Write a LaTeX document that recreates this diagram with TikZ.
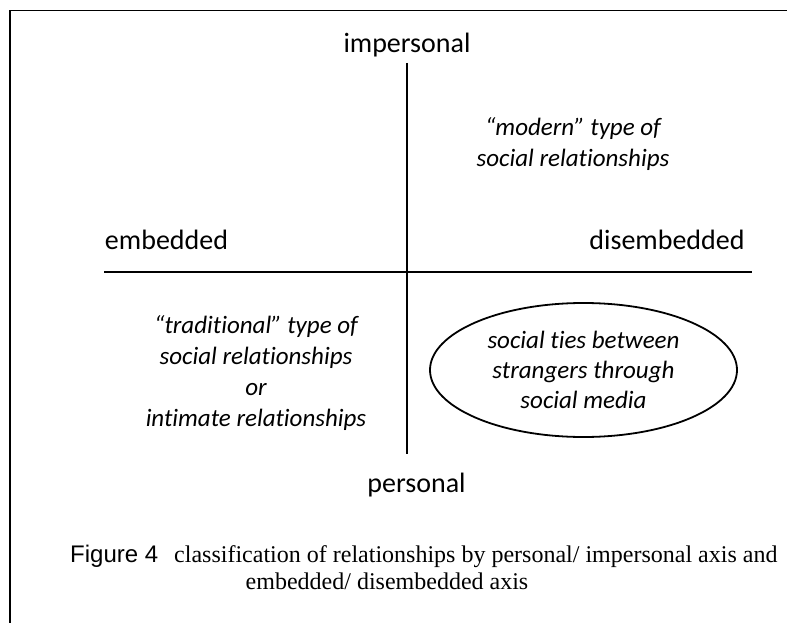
\documentclass[tikz,border=0pt]{standalone}
\usepackage{fontspec}
\setmainfont{Carlito}[Ligatures=NoCommon]
\newfontfamily\capsans{Liberation Sans}
\newfontfamily\capserif{Liberation Serif}
\usetikzlibrary{shapes.geometric}
\begin{document}
\begin{tikzpicture}[x=1pt,y=-1pt,
  axislabel/.style={font=\fontsize{28}{34}\selectfont, inner sep=0pt, anchor=base},
  quadtext/.style={font=\fontsize{25}{31}\selectfont\itshape, align=center, inner sep=0pt},
  axisline/.style={line width=2pt},
  frameline/.style={line width=1.8pt},
  captext/.style={font=\fontsize{24}{28}\selectfont\capserif, inner sep=0pt}]
\useasboundingbox (0,0) rectangle (787,623);
% frame
\coordinate (ftr) at (790,10.5);
\coordinate (ftl) at (10,10.5);
\coordinate (fbl) at (10,626);
\draw[frameline] (ftr) -- (ftl) -- (fbl);
% axes
\coordinate (vt) at (407,63);
\coordinate (vb) at (407,454);
\coordinate (hl) at (104,272);
\coordinate (hr) at (752,272);
\draw[axisline] (vt) -- (vb);
\draw[axisline] (hl) -- (hr);
% axis labels
\node[axislabel] (imp) at (407,53) {impersonal};
\node[axislabel] (per) at (416.5,492) {personal};
\node[axislabel] (emb) at (166.5,249) {embedded};
\node[axislabel] (dis) at (667,249) {disembedded};
% quadrant texts
\node[quadtext] (modern) at (573,144) {“modern” type of\\social relationships};
\node[quadtext] (trad) at (256,373) {“traditional” type of\\social relationships\\or\\intimate relationships};
\node[draw, line width=1.8pt, ellipse, inner sep=0pt, minimum width=307pt, minimum height=134pt] (media) at (583.5,370) {};
\node[quadtext, font=\fontsize{25}{30}\selectfont\itshape] (mediatext) at (media.center) {social ties between\\strangers through\\social media};
% caption
\node[captext, anchor=base west] (cap1) at (70,562) {{\capsans Figure 4}\hspace{16pt}classification of relationships by personal/ impersonal axis and};
\node[captext, anchor=base] (cap2) at (387,589) {embedded/ disembedded axis};
\end{tikzpicture}
\end{document}
